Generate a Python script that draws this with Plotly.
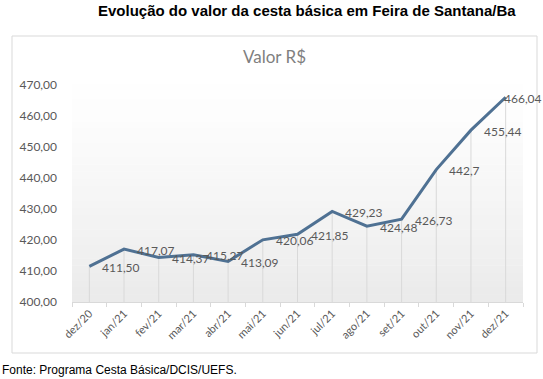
import plotly.graph_objects as go

categories = ["dez/20", "jan/21", "fev/21", "mar/21", "abr/21", "mai/21", "jun/21",
              "jul/21", "ago/21", "set/21", "out/21", "nov/21", "dez/21"]
values = [411.50, 417.07, 414.37, 415.27, 413.09, 420.06, 421.85,
          429.23, 424.48, 426.73, 442.7, 455.44, 466.04]
value_labels = ["411,50", "417,07", "414,37", "415,27", "413,09", "420,06", "421,85",
                "429,23", "424,48", "426,73", "442,7", "455,44", "466,04"]
y_ticks = [400, 410, 420, 430, 440, 450, 460, 470]
y_min = 400

FONT = "Lato, 'Open Sans', sans-serif"
GRAY = "#595959"

x_idx = list(range(len(categories)))

fig = go.Figure()

# drop lines from each point to axis
fig.add_trace(go.Scatter(
    x=x_idx, y=values, mode="markers",
    marker=dict(size=0.1, color="rgba(0,0,0,0)"),
    error_y=dict(type="data", symmetric=False, array=[0] * len(values),
                 arrayminus=[v - y_min for v in values],
                 width=0, thickness=1, color="#d9d9d9"),
    hoverinfo="skip", showlegend=False,
))

fig.add_trace(go.Scatter(
    x=x_idx, y=values, mode="lines",
    line=dict(color="#4f7193", width=3),
    showlegend=False,
))

PL, PR, PT, PB = 72, 523, 85, 302  # plot area pixels
W, H = PR - PL, PB - PT


def px(x):
    return (x - PL) / W


def py(y):
    return (PB - y) / H


annotations = []
last = len(x_idx) - 1
for xi, v, lab in zip(x_idx, values, value_labels):
    annotations.append(dict(x=xi, y=v, xref="x", yref="y", text=lab,
                            showarrow=False, xanchor="left", yanchor="middle",
                            xshift=-4 if xi == last else 11, yshift=-1,
                            font=dict(family=FONT, size=12, color=GRAY)))

annotations += [
    dict(text="Evolução do valor da cesta básica em Feira de Santana/Ba",
         xref="paper", yref="paper", x=px(96), y=py(11),
         xanchor="left", yanchor="middle", showarrow=False,
         font=dict(family="Liberation Sans, Arial, sans-serif", size=15,
                   color="black", weight="bold")),
    dict(text="Valor R$", xref="paper", yref="paper",
         x=px(274), y=py(57),
         xanchor="center", yanchor="middle", showarrow=False,
         font=dict(family=FONT, size=17, color="#7f7f7f")),
    dict(text="Fonte: Programa Cesta Básica/DCIS/UEFS.", xref="paper", yref="paper",
         x=px(0), y=py(370),
         xanchor="left", yanchor="middle", showarrow=False,
         font=dict(family="Liberation Sans, Arial, sans-serif", size=12, color="black")),
]

shapes = []
# plot area gradient
n = 30
for i in range(n):
    t = i / n
    c = int(255 - 20 * (1 - t) ** 1.3)
    shapes.append(dict(type="rect", xref="x domain", yref="y domain",
                       x0=0, x1=1, y0=t, y1=t + 1.0 / n + 0.002,
                       fillcolor=f"rgb({c},{c},{c})", line=dict(width=0),
                       layer="below"))
# chart border
shapes.append(dict(type="rect", xref="paper", yref="paper",
                   x0=px(12), x1=px(537), y0=py(353), y1=py(36),
                   line=dict(color="#d9d9d9", width=1), fillcolor="rgba(0,0,0,0)",
                   layer="below"))

fig.update_layout(
    width=543, height=379,
    margin=dict(l=PL, r=543 - PR, t=PT, b=379 - PB),
    paper_bgcolor="white", plot_bgcolor="white",
    separators=",.",
    shapes=shapes,
    annotations=annotations,
    xaxis=dict(
        tickmode="array", tickvals=x_idx, ticktext=categories,
        range=[-0.5, len(categories) - 0.5],
        tickangle=-45, showgrid=False, zeroline=False,
        showline=True, linecolor="#d9d9d9", linewidth=1,
        ticks="", tickfont=dict(family=FONT, size=11, color=GRAY),
        automargin=False,
    ),
    yaxis=dict(
        range=[400, 470], tickvals=y_ticks, tickformat=".2f",
        showgrid=False, zeroline=False, showline=False,
        tickfont=dict(family=FONT, size=12, color=GRAY),
        ticklabelstandoff=14, automargin=False,
    ),
)

# minor ticks at category boundaries
fig.update_xaxes(minor=dict(tickmode="array",
                            tickvals=[i - 0.5 for i in range(len(categories) + 1)],
                            ticks="outside", ticklen=4, tickcolor="#d9d9d9"))

fig.write_html("out.html", config={"displayModeBar": False},
               post_script="document.body.style.margin='0';document.body.style.padding='0';"
                           "document.body.style.overflow='hidden';")
